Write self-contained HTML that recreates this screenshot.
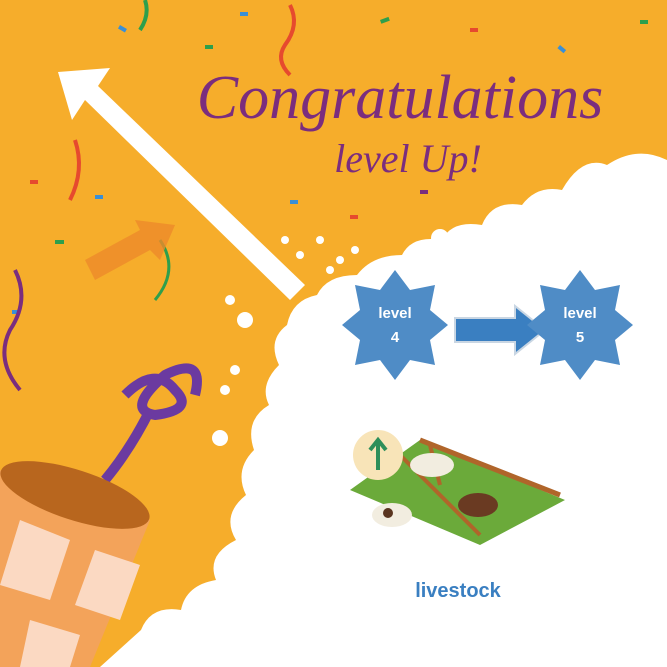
<!DOCTYPE html>
<html><head><meta charset="utf-8"><style>
html,body{margin:0;padding:0;width:667px;height:667px;overflow:hidden;background:#F6AD2B}
svg{display:block}
</style></head><body>
<svg width="667" height="667" viewBox="0 0 667 667">
<rect width="667" height="667" fill="#F6AD2B"/>
<g>
<rect x="120" y="25" width="8" height="4" fill="#3A8FD6" transform="rotate(30 120 25)"/>
<rect x="240" y="12" width="8" height="4" fill="#3A8FD6"/>
<rect x="380" y="20" width="9" height="4" fill="#2E9F4C" transform="rotate(-20 380 20)"/>
<rect x="470" y="28" width="8" height="4" fill="#E64A2E"/>
<rect x="560" y="45" width="8" height="4" fill="#3A8FD6" transform="rotate(40 560 45)"/>
<rect x="30" y="180" width="8" height="4" fill="#E64A2E"/>
<rect x="95" y="195" width="8" height="4" fill="#3A8FD6"/>
<rect x="55" y="240" width="9" height="4" fill="#2E9F4C"/>
<rect x="205" y="45" width="8" height="4" fill="#2E9F4C"/>
<rect x="290" y="200" width="8" height="4" fill="#3A8FD6"/>
<rect x="350" y="215" width="8" height="4" fill="#E64A2E"/>
<rect x="420" y="190" width="8" height="4" fill="#7B2D7E"/>
<rect x="640" y="20" width="8" height="4" fill="#2E9F4C"/>
<rect x="12" y="310" width="8" height="4" fill="#3A8FD6"/>
<path d="M290 5 q10 20 -5 40 q-10 15 5 30" stroke="#E64A2E" stroke-width="4" fill="none"/>
<path d="M145 0 q5 15 -5 30" stroke="#2E9F4C" stroke-width="4" fill="none"/>
<path d="M15 270 q15 30 -5 60 q-15 30 10 60" stroke="#7B2D7E" stroke-width="4" fill="none"/>
<path d="M75 140 q10 30 -5 60" stroke="#E64A2E" stroke-width="4" fill="none"/>
<path d="M160 240 q20 30 -5 60" stroke="#2E9F4C" stroke-width="3" fill="none"/>
</g>
<path d="M85 260 L140 230 L135 220 L175 225 L160 260 L150 250 L95 280 Z" fill="#EE8A2A" opacity="0.8"/>
<path d="M667 160 q-30 -15 -60 5 q-25 -10 -45 25 q-25 -5 -40 15 q-30 -5 -40 20 q-30 -5 -40 15 q-30 -5 -40 15 q-30 0 -45 20 q-30 0 -40 20 q-25 5 -30 30 q-20 15 -8 40 q-20 20 -10 40 q-25 15 -15 45 q-20 20 -8 45 q-25 20 -10 45 q-30 15 -20 40 q-30 5 -35 30 q-30 -5 -40 20 L100 667 L667 667 Z" fill="#fff"/>
<g fill="#fff">
<circle cx="285" cy="240" r="4"/><circle cx="300" cy="255" r="4"/><circle cx="320" cy="240" r="4"/><circle cx="340" cy="260" r="4"/><circle cx="355" cy="250" r="4"/><circle cx="330" cy="270" r="4"/><circle cx="245" cy="320" r="8"/><circle cx="230" cy="300" r="5"/><circle cx="235" cy="370" r="5"/><circle cx="225" cy="390" r="5"/><circle cx="220" cy="438" r="8"/><circle cx="440" cy="238" r="9"/>
</g>
<path d="M58 72 L110 68 L98 86 L305 285 L290 300 L85 100 L72 120 Z" fill="#fff"/>
<path d="M125 395 q30 -30 50 -5 q20 20 -20 25 q-30 -5 10 -40 q40 -20 30 20 M150 410 q-20 40 -45 70" stroke="#6B3AA0" stroke-width="10" fill="none"/>
<g>
<path d="M0 470 L150 520 L90 667 L0 667 Z" fill="#F3A35A"/>
<path d="M20 520 L70 540 L50 600 L0 585 Z M95 550 L140 565 L120 620 L75 605 Z M30 620 L80 635 L70 667 L20 667 Z" fill="#FBD9C2"/>
<ellipse cx="75" cy="495" rx="78" ry="25" transform="rotate(18 75 495)" fill="#B8661E"/>
</g>
<text x="400" y="118" text-anchor="middle" font-family="'Liberation Serif',serif" font-style="italic" font-size="62" fill="#7B2D7E">Congratulations</text>
<text x="408" y="172" text-anchor="middle" font-family="'Liberation Serif',serif" font-style="italic" font-size="40" fill="#7B2D7E">level Up!</text>
<g>
<polygon points="395,270 410,290 435,285 430,310 448,325 430,340 435,365 410,360 395,380 380,360 355,365 360,340 342,325 360,310 355,285 380,290" fill="#4F8CC6"/>
<text x="395" y="318" text-anchor="middle" font-family="'Liberation Sans',sans-serif" font-weight="bold" font-size="15" fill="#fff">level</text>
<text x="395" y="342" text-anchor="middle" font-family="'Liberation Sans',sans-serif" font-weight="bold" font-size="15" fill="#fff">4</text>
</g>
<path d="M455 318 L515 318 L515 306 L545 330 L515 354 L515 342 L455 342 Z" fill="#3A7FC1" stroke="#c9d6e3" stroke-width="2"/>
<g>
<polygon points="580,270 595,290 620,285 615,310 633,325 615,340 620,365 595,360 580,380 565,360 540,365 545,340 527,325 545,310 540,285 565,290" fill="#4F8CC6"/>
<text x="580" y="318" text-anchor="middle" font-family="'Liberation Sans',sans-serif" font-weight="bold" font-size="15" fill="#fff">level</text>
<text x="580" y="342" text-anchor="middle" font-family="'Liberation Sans',sans-serif" font-weight="bold" font-size="15" fill="#fff">5</text>
</g>
<g>
<path d="M350 490 L420 440 L565 500 L480 545 Z" fill="#6BAA3A"/>
<path d="M420 440 L560 495" stroke="#B0652A" stroke-width="5"/>
<path d="M400 455 L480 535 M430 445 L440 485" stroke="#B0652A" stroke-width="4"/>
<circle cx="378" cy="455" r="25" fill="#F8E4B8"/>
<path d="M378 470 L378 442 M370 450 L378 440 L386 450" stroke="#2E8F5A" stroke-width="4" fill="none"/>
<ellipse cx="432" cy="465" rx="22" ry="12" fill="#F2EDE0"/>
<ellipse cx="478" cy="505" rx="20" ry="12" fill="#6A3A22"/>
<ellipse cx="392" cy="515" rx="20" ry="12" fill="#F2EDE0"/>
<circle cx="388" cy="513" r="5" fill="#5a3520"/>
</g>
<text x="458" y="597" text-anchor="middle" font-family="'Liberation Sans',sans-serif" font-weight="bold" font-size="20" fill="#3A7FC1">livestock</text>
</svg>
</body></html>
